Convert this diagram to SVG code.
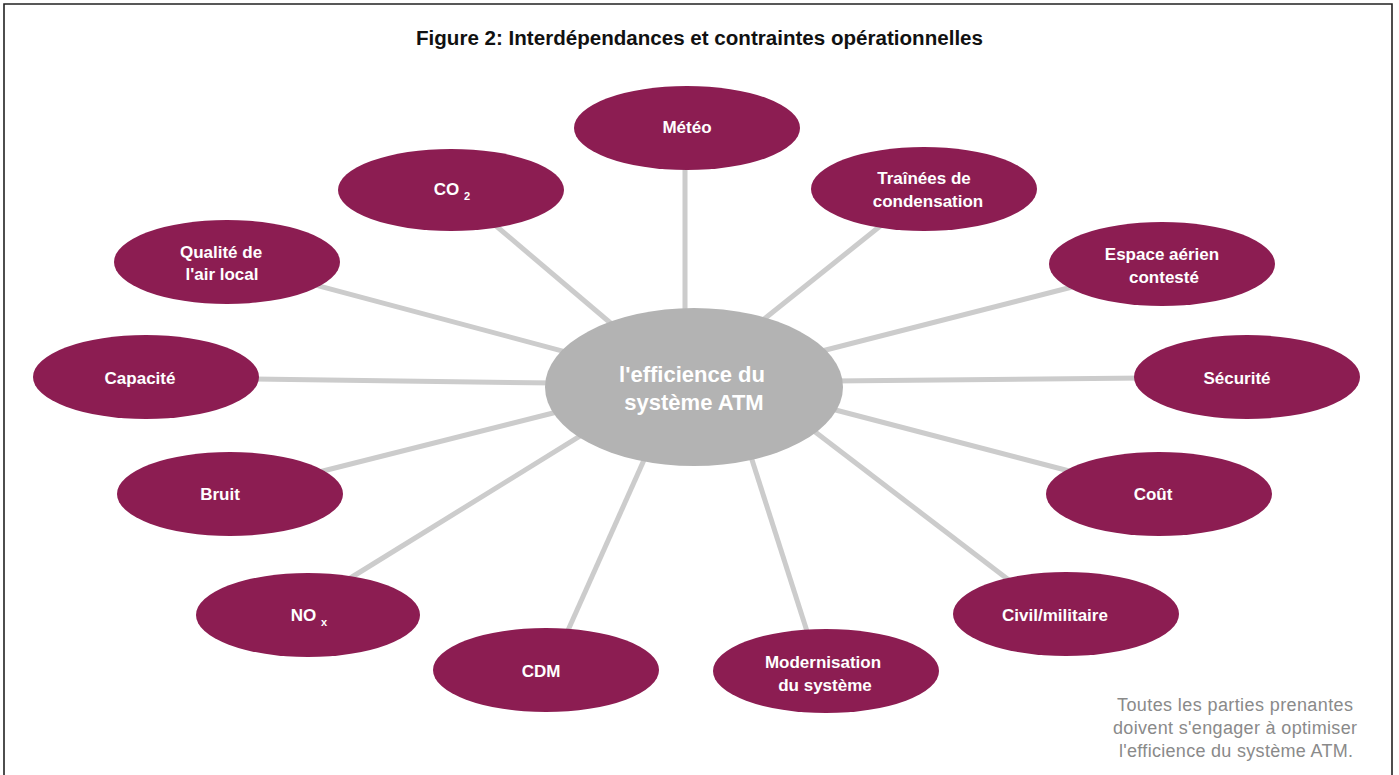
<svg xmlns="http://www.w3.org/2000/svg" width="1399" height="775" viewBox="0 0 1399 775">
  <style>
    .node ellipse { fill: #8c1d52; }
    .node text { font-family: "Liberation Sans", Arial, sans-serif; font-weight: bold; font-size: 17px; fill: #ffffff; text-anchor: middle; }
    .node text .sub { font-size: 11px; }
    #connectors line { stroke: #cccccc; stroke-width: 5; stroke-linecap: butt; }
    #hub ellipse { fill: #b3b3b3; }
    #hub text { font-family: "Liberation Sans", Arial, sans-serif; font-weight: bold; font-size: 22px; fill: #ffffff; text-anchor: middle; }
    .title { font-family: "Liberation Sans", Arial, sans-serif; font-weight: bold; font-size: 19.5px; fill: #111111; }
    .note { font-family: "Liberation Sans", Arial, sans-serif; font-size: 18px; fill: #8a8a8a; text-anchor: middle; }
  </style>

  <rect x="0" y="0" width="1399" height="775" fill="#ffffff"/>
  <!-- frame -->
  <path d="M4,776 V4 H1392 V776" fill="none" stroke="#222222" stroke-width="1.6"/>

  <text class="title" x="416" y="45" textLength="567" lengthAdjust="spacingAndGlyphs">Figure 2: Interdépendances et contraintes opérationnelles</text>

  <!-- spokes from the hub to each constraint -->
  <g id="connectors">
    <line x1="685" y1="160" x2="685" y2="320"/>
    <line x1="884" y1="223" x2="758" y2="324"/>
    <line x1="1078" y1="285.5" x2="816" y2="352.5"/>
    <line x1="1144" y1="378" x2="833" y2="381"/>
    <line x1="1075" y1="472.5" x2="826" y2="407.5"/>
    <line x1="1014" y1="584" x2="810" y2="428"/>
    <line x1="809" y1="637.5" x2="749" y2="450.5"/>
    <line x1="565" y1="637" x2="648" y2="451"/>
    <line x1="345.5" y1="581" x2="585.5" y2="432.7"/>
    <line x1="317" y1="472.5" x2="563" y2="410.5"/>
    <line x1="248" y1="379" x2="556" y2="383"/>
    <line x1="313" y1="284.4" x2="572" y2="353.6"/>
    <line x1="492" y1="222.5" x2="617" y2="328.5"/>
  </g>

  <g id="hub">
    <ellipse cx="694" cy="387" rx="149" ry="79"/>
    <text x="692" y="382">l'efficience du</text>
    <text x="694" y="410">système ATM</text>
  </g>

  <g id="meteo" class="node">
    <ellipse cx="687" cy="128" rx="113" ry="42"/>
    <text x="687" y="133">Météo</text>
  </g>
  <g id="trainees" class="node">
    <ellipse cx="924" cy="189" rx="113" ry="42"/>
    <text x="924" y="184">Traînées de</text>
    <text x="928" y="207">condensation</text>
  </g>
  <g id="espace" class="node">
    <ellipse cx="1162" cy="264" rx="113" ry="42"/>
    <text x="1162" y="260">Espace aérien</text>
    <text x="1164" y="283">contesté</text>
  </g>
  <g id="securite" class="node">
    <ellipse cx="1247" cy="377" rx="113" ry="42"/>
    <text x="1237" y="384">Sécurité</text>
  </g>
  <g id="cout" class="node">
    <ellipse cx="1159" cy="494" rx="113" ry="42"/>
    <text x="1153" y="500">Coût</text>
  </g>
  <g id="civil" class="node">
    <ellipse cx="1066" cy="614" rx="113" ry="42"/>
    <text x="1055" y="621">Civil/militaire</text>
  </g>
  <g id="modernisation" class="node">
    <ellipse cx="826" cy="671" rx="113" ry="42"/>
    <text x="823" y="668">Modernisation</text>
    <text x="825" y="691">du système</text>
  </g>
  <g id="cdm" class="node">
    <ellipse cx="546" cy="670" rx="113" ry="42"/>
    <text x="541" y="677">CDM</text>
  </g>
  <g id="nox" class="node">
    <ellipse cx="308" cy="615" rx="112" ry="42"/>
    <text x="309" y="621">NO <tspan class="sub" dy="5">x</tspan></text>
  </g>
  <g id="bruit" class="node">
    <ellipse cx="230" cy="494" rx="113" ry="42"/>
    <text x="220" y="500">Bruit</text>
  </g>
  <g id="capacite" class="node">
    <ellipse cx="146" cy="377" rx="113" ry="42"/>
    <text x="140" y="384">Capacité</text>
  </g>
  <g id="qualite" class="node">
    <ellipse cx="227" cy="262" rx="113" ry="42"/>
    <text x="221" y="258">Qualité de</text>
    <text x="222" y="280">l'air local</text>
  </g>
  <g id="co2" class="node">
    <ellipse cx="451" cy="190" rx="113" ry="41"/>
    <text x="452" y="195">CO <tspan class="sub" dy="5">2</tspan></text>
  </g>

  <text class="note" x="1235" y="711" textLength="236">Toutes les parties prenantes</text>
  <text class="note" x="1235" y="734" textLength="244">doivent s'engager à optimiser</text>
  <text class="note" x="1236" y="757" textLength="234">l'efficience du système ATM.</text>
</svg>
